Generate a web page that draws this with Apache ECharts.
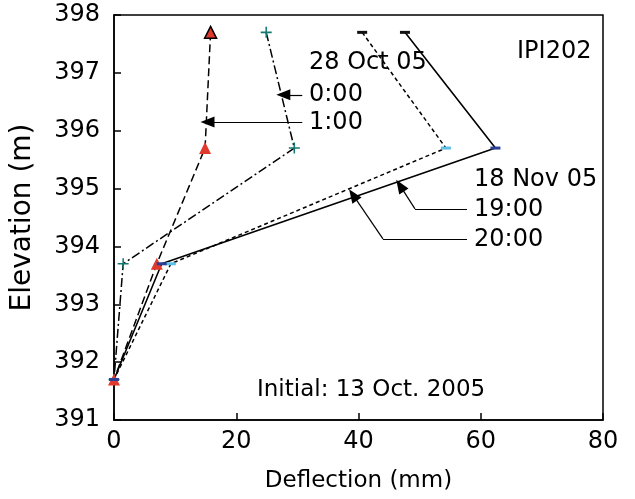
<!DOCTYPE html>
<html>
<head>
<meta charset="utf-8">
<script src="https://cdn.jsdelivr.net/npm/echarts@6/dist/echarts.min.js"></script>
<style>html,body{margin:0;padding:0;background:#fff}#c{width:635px;height:499px}</style>
</head>
<body>
<div id="c"></div>
<script>
var elevations = [397.7, 395.7, 393.7, 391.7];
var oct28_0000 = [24.9, 29.5, 1.5, 0];
var oct28_0100 = [15.8, 14.9, 7.0, 0];
var nov18_1900 = [40.6, 54.3, 9.3, 0];
var nov18_2000 = [47.6, 62.4, 7.8, 0];
var xTicks = [0, 20, 40, 60, 80];
var yTicks = [391, 392, 393, 394, 395, 396, 397, 398];

var FONT = 'DejaVu Sans';
function pairs(xs) { return xs.map(function (x, i) { return [x, elevations[i]]; }); }
function arrow(pts) {
  var segs = [];
  for (var i = 0; i < pts.length - 1; i++) {
    var last = i === pts.length - 2;
    segs.push([
      { coord: pts[i], symbol: 'none' },
      { coord: pts[i + 1], symbol: last ? 'triangle' : 'none', symbolSize: last ? [11, 14] : 0 }
    ]);
  }
  return segs;
}
var plusPath = 'path://M4.3,0H5.7V4.3H10V5.7H5.7V10H4.3V5.7H0V4.3H4.3Z';

var chart = echarts.init(document.getElementById('c'), null, { renderer: 'canvas' });
function txt(s, x, y, size) {
  return { type: 'text', x: x, y: y, style: { text: s, align: 'left', verticalAlign: 'middle', fontFamily: FONT, fontSize: size || 24, fill: '#000' } };
}
var option = {
  animation: false,
  backgroundColor: '#fff',
  grid: { left: 114, right: 32, top: 15, bottom: 79, show: true, borderColor: '#000', borderWidth: 1.5, backgroundColor: 'transparent' },
  xAxis: {
    type: 'value', min: xTicks[0], max: xTicks[xTicks.length - 1], interval: 20,
    name: 'Deflection (mm)', nameLocation: 'middle', nameGap: 50,
    nameTextStyle: { fontFamily: FONT, fontSize: 23, color: '#000' },
    axisLine: { lineStyle: { color: '#000', width: 1.5 } },
    axisTick: { inside: true, length: 7, lineStyle: { color: '#000', width: 1.5 } },
    axisLabel: { margin: 10, fontFamily: FONT, fontSize: 24, color: '#000' },
    splitLine: { show: false }
  },
  yAxis: {
    type: 'value', min: yTicks[0], max: yTicks[yTicks.length - 1], interval: 1,
    name: 'Elevation (m)', nameLocation: 'middle', nameGap: 77, nameRotate: 90,
    nameTextStyle: { fontFamily: FONT, fontSize: 28, color: '#000' },
    axisLine: { show: true, lineStyle: { color: '#000', width: 1.5 } },
    axisTick: { show: true, inside: true, length: 7, lineStyle: { color: '#000', width: 1.5 } },
    axisLabel: { margin: 14, fontFamily: FONT, fontSize: 24, color: '#000' },
    splitLine: { show: false }
  },
  series: [
    {
      name: '28 Oct 05 0:00', type: 'line', data: pairs(oct28_0000),
      symbol: plusPath, symbolSize: 11, itemStyle: { color: '#127a70' },
      lineStyle: { color: '#000', width: 1.5, type: [9, 3, 2, 3] },
      markLine: {
        silent: true, animation: false,
        label: { show: false },
        lineStyle: { color: '#000', width: 1.2, type: 'solid' },
        emphasis: { disabled: true },
        data: [].concat(
          arrow([[30.8, 396.62], [27.7, 396.62]]),
          arrow([[30.8, 396.15], [15.3, 396.15]]),
          arrow([[57.75, 394.65], [49.24, 394.65], [46.8, 395.05]]),
          arrow([[57.75, 394.13], [44.0, 394.13], [39.1, 394.89]])
        )
      }
    },
    {
      name: '28 Oct 05 1:00', type: 'line', data: pairs(oct28_0100).map(function (p, i) {
        return i === 0 ? { value: p, itemStyle: { color: '#e03a2e', borderColor: '#000', borderWidth: 1.5 } } : p;
      }),
      symbol: 'triangle', symbolSize: 12, itemStyle: { color: '#e03a2e' },
      lineStyle: { color: '#000', width: 1.5, type: [8, 4] }
    },
    {
      name: '18 Nov 05 19:00', type: 'line', data: pairs(nov18_1900).map(function (p, i) {
        return i === 0 ? { value: p, itemStyle: { color: '#111' } } : p;
      }),
      symbol: 'rect', symbolSize: [10, 3], itemStyle: { color: '#5bbfe6' },
      lineStyle: { color: '#000', width: 1.5, type: [4, 3] }
    },
    {
      name: '18 Nov 05 20:00', type: 'line', data: pairs(nov18_2000).map(function (p, i) {
        return i === 0 ? { value: p, itemStyle: { color: '#111' } } : p;
      }),
      symbol: 'rect', symbolSize: [10, 3], itemStyle: { color: '#2b3f94' },
      lineStyle: { color: '#000', width: 1.6, type: 'solid' }
    }
  ],
  graphic: [
    txt('28 Oct 05', 309, 63),
    txt('0:00', 309, 95),
    txt('1:00', 309, 123),
    txt('IPI202', 517, 52),
    txt('18 Nov 05', 474, 180),
    txt('19:00', 474, 210),
    txt('20:00', 474, 240),
    txt('Initial: 13 Oct. 2005', 257, 390, 23)
  ]
};
chart.setOption(option);
</script>
</body>
</html>
